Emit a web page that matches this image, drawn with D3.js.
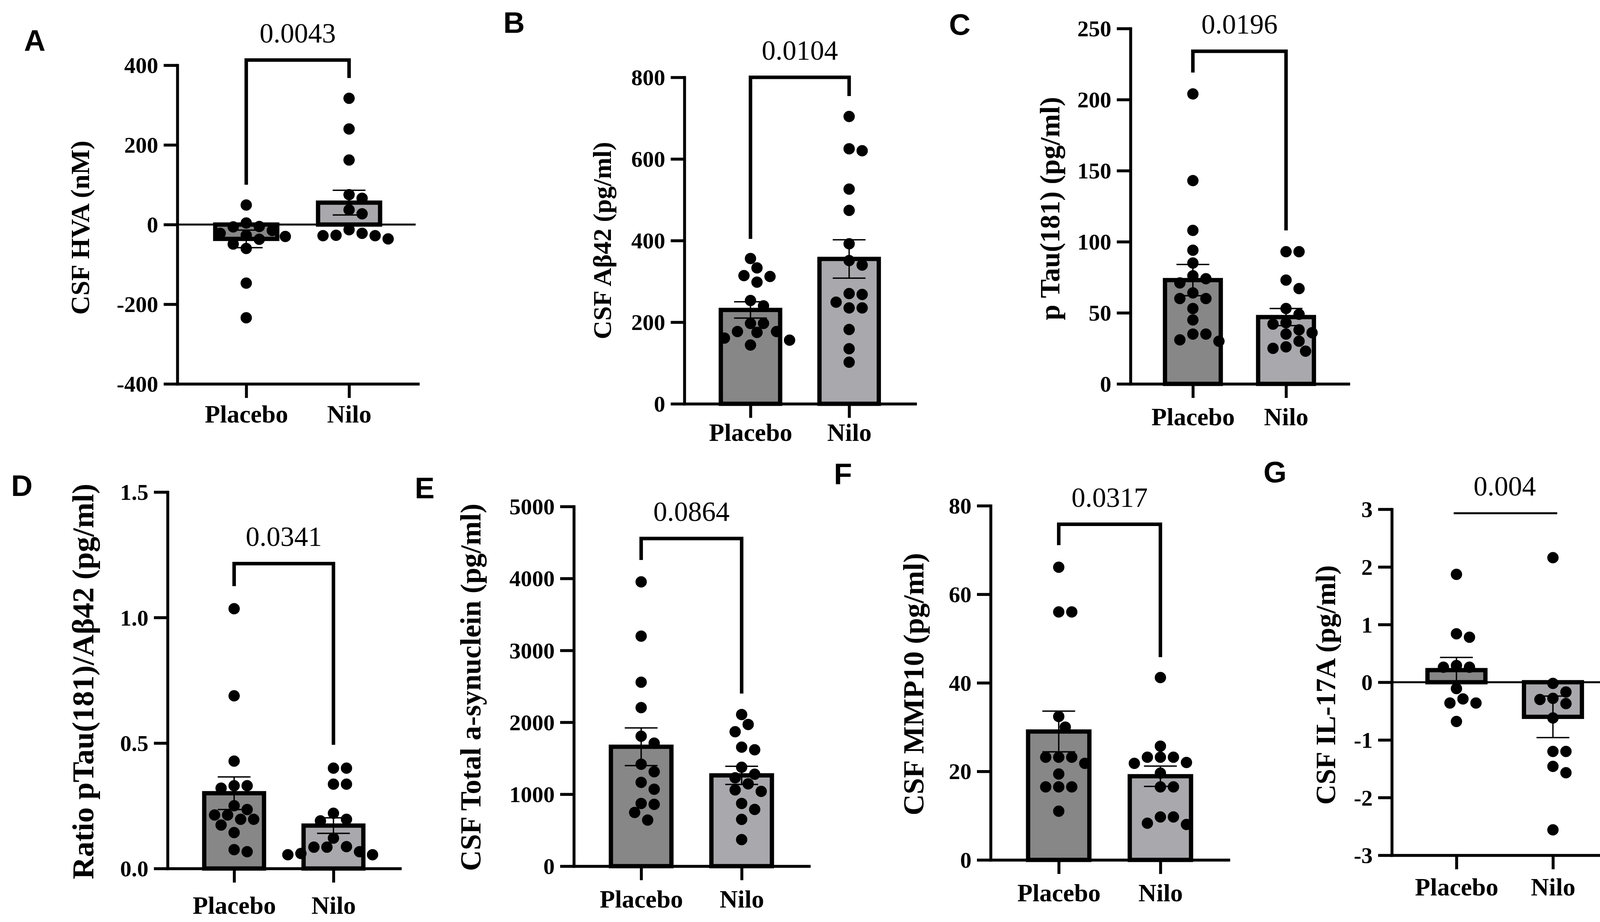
<!DOCTYPE html>
<html>
<head>
<meta charset="utf-8">
<script src="https://cdn.jsdelivr.net/npm/d3@7"></script>
<style>
  body { margin: 0; background: #fff; }
  svg { display: block; }
</style>
</head>
<body>
<svg></svg>
<script>
// values
var categories = ['Placebo', 'Nilo']

var hvaPlacebo = [49, 4, -5, -6, -15, -22, -27, -30, -37, -49, -60, -147, -234]
var hvaNilo = [317, 240, 162, 75, 66, 37, 27, -13, -22, -27, -28, -28, -36]
var hvaMean = [-36, 55]
var hvaSem = [22, 31]
var hvaTicks = [-400, -200, 0, 200, 400]

var abPlacebo = [356, 333, 314, 312, 298, 253, 240, 197, 197, 177, 177, 175, 161, 156, 144]
var abNilo = [704, 625, 620, 526, 474, 392, 351, 340, 270, 268, 249, 235, 235, 182, 135, 102]
var abMean = [230, 355]
var abSem = [20, 47]
var abTicks = [0, 200, 400, 600, 800]

var tauPlacebo = [204, 143, 108, 94, 85, 76, 74, 71, 64, 60, 60, 53, 45, 35, 35, 31, 30]
var tauNilo = [93, 93, 73, 67, 53, 49, 43, 42, 38, 36, 35, 30, 26, 25, 23]
var tauMean = [73, 47]
var tauSem = [11, 6]
var tauTicks = [0, 50, 100, 150, 200, 250]

var ratioPlacebo = [1.035, 0.688, 0.428, 0.33, 0.33, 0.32, 0.25, 0.235, 0.213, 0.213, 0.196, 0.196, 0.173, 0.143, 0.075, 0.067]
var ratioNilo = [0.40, 0.40, 0.336, 0.336, 0.22, 0.196, 0.19, 0.121, 0.087, 0.085, 0.085, 0.067, 0.06, 0.055, 0.055]
var ratioMean = [0.30, 0.171]
var ratioSem = [0.065, 0.031]
var ratioTicks = [0, 0.5, 1.0, 1.5]

var synPlacebo = [3952, 3198, 2557, 2204, 1806, 1710, 1417, 1312, 1165, 1069, 872, 859, 746, 641]
var synNilo = [2108, 1970, 1869, 1655, 1618, 1375, 1278, 1228, 1144, 1060, 1039, 872, 788, 650, 369]
var synMean = [1660, 1262]
var synSem = [262, 126]
var synTicks = [0, 1000, 2000, 3000, 4000, 5000]

var mmpPlacebo = [66.1, 56, 56, 32.4, 30, 23.2, 23.2, 23.2, 21.8, 19.4, 16.5, 16.5, 16.5, 11]
var mmpNilo = [41.2, 25.7, 23.2, 23.2, 23.2, 22, 21.8, 19.6, 16.5, 16.5, 9.7, 9.7, 8.3, 8.0]
var mmpMean = [29.0, 18.9]
var mmpSem = [4.6, 2.3]
var mmpTicks = [0, 20, 40, 60, 80]

var ilPlacebo = [1.87, 0.84, 0.78, 0.29, 0.26, 0.26, -0.11, -0.29, -0.36, -0.36, -0.68]
var ilNilo = [2.16, -0.02, -0.17, -0.28, -0.30, -0.37, -0.62, -1.20, -1.20, -1.46, -1.57, -2.56]
var ilMean = [0.21, -0.60]
var ilSem = [0.22, 0.36]
var ilTicks = [-3, -2, -1, 0, 1, 2, 3]

var pValues = ['0.0043', '0.0104', '0.0196', '0.0341', '0.0864', '0.0317', '0.004']
// bracket: [top, left leg end, right leg end] in data units
var brackets = [[413, 100, 368], [800, 404, 754], [234, 219, 108], [1.215, 1.125, 0.493],
    [4555, 4256, 2400], [75.8, 71.1, 45.8], [2.93, null, null]]
var yLabels = ['CSF HVA (nM)', 'CSF A\u03b242 (pg/ml)', 'p Tau(181) (pg/ml)',
    'Ratio pTau(181)/A\u03b242 (pg/ml)', 'CSF Total a-synuclein (pg/ml)', 'CSF MMP10 (pg/ml)', 'CSF IL-17A (pg/ml)']
var letters = ['A', 'B', 'C', 'D', 'E', 'F', 'G']

var panels = [
    { pts: [hvaPlacebo, hvaNilo], mean: hvaMean, sem: hvaSem, ticks: hvaTicks, zero: true,
      ax: 454, xEnd: 1070, yTop: 167, yBot: 983, labX: 228, labY: 583, labSize: 68, catY: 1082, lx: 89, ly: 103 },
    { pts: [abPlacebo, abNilo], mean: abMean, sem: abSem, ticks: abTicks,
      ax: 1752, xEnd: 2343, yTop: 198, yBot: 1034, labX: 1564, labY: 616, labSize: 66, catY: 1129, lx: 1316, ly: 57 },
    { pts: [tauPlacebo, tauNilo], mean: tauMean, sem: tauSem, ticks: tauTicks,
      ax: 2894, xEnd: 3452, yTop: 73, yBot: 983, labX: 2712, labY: 534, labSize: 72, catY: 1089, lx: 2457, ly: 62 },
    { pts: [ratioPlacebo, ratioNilo], mean: ratioMean, sem: ratioSem, ticks: ratioTicks, fmt: d3.format('.1f'),
      ax: 429, xEnd: 1024, yTop: 1260, yBot: 2224, labX: 239, labY: 1745, labSize: 79, catY: 2340, lx: 56, ly: 1243 },
    { pts: [synPlacebo, synNilo], mean: synMean, sem: synSem, ticks: synTicks,
      ax: 1469, xEnd: 2071, yTop: 1297, yBot: 2218, labX: 1230, labY: 1760, labSize: 74, catY: 2324, lx: 1087, ly: 1249 },
    { pts: [mmpPlacebo, mmpNilo], mean: mmpMean, sem: mmpSem, ticks: mmpTicks,
      ax: 2536, xEnd: 3145, yTop: 1295, yBot: 2202, labX: 2364, labY: 1752, labSize: 75, catY: 2308, lx: 2158, ly: 1213 },
    { pts: [ilPlacebo, ilNilo], mean: ilMean, sem: ilSem, ticks: ilTicks, zero: true,
      ax: 3563, xEnd: 4141, yTop: 1304, yBot: 2190, labX: 3418, labY: 1754, labSize: 72, catY: 2293, lx: 3264, ly: 1208 }
]

var fills = ['#878787', '#a9a9ad']
var serif = '"Liberation Serif", "Times New Roman", serif'
var sans = '"Liberation Sans", Arial, sans-serif'
var R = 14.5

var svg = d3.select('svg').attr('width', 4172).attr('height', 2361)

// simple beeswarm: keep dots from overlapping, closest to the centre first
function swarm(values, y, cx) {
    var placed = []
    var order = values.map((v, i) => i).sort((a, b) => values[b] - values[a])
    order.forEach((i) => {
        var yy = y(values[i])
        for (var k = 0; k < 40; k++) {
            var off = (k % 2 ? 1 : -1) * Math.ceil(k / 2) * R * 1.15
            var x = cx + off
            var ok = placed.every((p) => (p.x - x) * (p.x - x) + (p.y - yy) * (p.y - yy) >= (2 * R * 0.97) * (2 * R * 0.97))
            if (ok) { placed.push({ x: x, y: yy }); break }
        }
    })
    return placed
}

panels.forEach((p, n) => {
    var g = svg.append('g')

    var y = d3.scaleLinear()
        .domain([d3.min(p.ticks), d3.max(p.ticks)])
        .range([p.yBot, p.yTop])

    var x = d3.scalePoint()
        .domain(categories)
        .range([p.ax, p.xEnd])
        .padding(0.67)

    var bw = x.step() * 0.645 - 11

    // bars
    g.selectAll('rect')
        .data(p.mean)
        .enter()
        .append('rect')
        .attr('x', (d, i) => x(categories[i]) - bw / 2)
        .attr('y', (d) => Math.min(y(d), y(0)))
        .attr('width', bw)
        .attr('height', (d) => Math.abs(y(d) - y(0)))
        .attr('fill', (d, i) => fills[i])
        .attr('stroke', '#000')
        .attr('stroke-width', 11)

    // dots
    p.pts.forEach((vals, i) => {
        g.append('g').selectAll('circle')
            .data(swarm(vals, y, x(categories[i])))
            .enter()
            .append('circle')
            .attr('cx', (d) => d.x)
            .attr('cy', (d) => d.y)
            .attr('r', R)
            .attr('fill', '#000')
    })

    // error bars (mean +/- SEM)
    p.mean.forEach((m, i) => {
        var cx = x(categories[i])
        var eb = g.append('g').attr('stroke', '#000').attr('stroke-width', 3.5)
        eb.append('line').attr('x1', cx).attr('x2', cx).attr('y1', y(m - p.sem[i])).attr('y2', y(m + p.sem[i]))
        ;[m - p.sem[i], m + p.sem[i]].forEach((v) => {
            eb.append('line').attr('x1', cx - 42).attr('x2', cx + 42).attr('y1', y(v)).attr('y2', y(v))
        })
    })

    if (p.zero) {
        g.append('line')
            .attr('x1', p.ax).attr('x2', p.xEnd - 6)
            .attr('y1', y(0)).attr('y2', y(0))
            .attr('stroke', '#000').attr('stroke-width', 5)
    }

    // axes
    var yAxis = g.append('g')
        .attr('transform', 'translate(' + p.ax + ',0)')
        .call(d3.axisLeft(y).tickValues(p.ticks).tickSize(35).tickSizeOuter(0).tickPadding(14)
            .tickFormat(p.fmt || ((d) => String(d))))

    var xAxis = g.append('g')
        .attr('transform', 'translate(0,' + p.yBot + ')')
        .call(d3.axisBottom(x).tickSize(36).tickSizeOuter(0))

    ;[yAxis, xAxis].forEach((a) => {
        a.select('.domain').attr('stroke-width', 7.5).attr('stroke-linecap', 'square')
        a.selectAll('.tick line').attr('stroke-width', 7.5)
        a.selectAll('text')
            .attr('fill', '#000')
            .style('font-family', serif)
            .style('font-weight', 'bold')
    })
    yAxis.selectAll('text').style('font-size', '58px').attr('dy', '0.34em')
    xAxis.selectAll('text').style('font-size', '64px').attr('dy', 0).attr('y', p.catY - p.yBot)

    // significance bracket
    var b = brackets[n]
    var bl = x(categories[0]), br = x(categories[1])
    var path = d3.path()
    if (b[1] !== null) {
        path.moveTo(bl, y(b[1])); path.lineTo(bl, y(b[0])); path.lineTo(br, y(b[0])); path.lineTo(br, y(b[2]))
    } else {
        path.moveTo(bl - 7, y(b[0])); path.lineTo(br + 11, y(b[0]))
    }
    g.append('path')
        .attr('d', path.toString())
        .attr('fill', 'none')
        .attr('stroke', '#000')
        .attr('stroke-width', b[1] !== null ? 9 : 5)

    g.append('text')
        .attr('x', (bl + br) / 2)
        .attr('y', y(b[0]) - 45)
        .attr('text-anchor', 'middle')
        .style('font-family', serif)
        .style('font-size', '71px')
        .text(pValues[n])

    // y label
    g.append('text')
        .attr('transform', 'translate(' + p.labX + ',' + p.labY + ') rotate(-90)')
        .attr('text-anchor', 'middle')
        .style('font-family', serif)
        .style('font-weight', 'bold')
        .style('font-size', p.labSize + 'px')
        .text(yLabels[n])

    // panel letter
    g.append('text')
        .attr('x', p.lx)
        .attr('y', p.ly)
        .attr('dy', '0.36em')
        .attr('text-anchor', 'middle')
        .style('font-family', sans)
        .style('font-weight', 'bold')
        .style('font-size', '76px')
        .text(letters[n])
})
</script>
</body>
</html>
